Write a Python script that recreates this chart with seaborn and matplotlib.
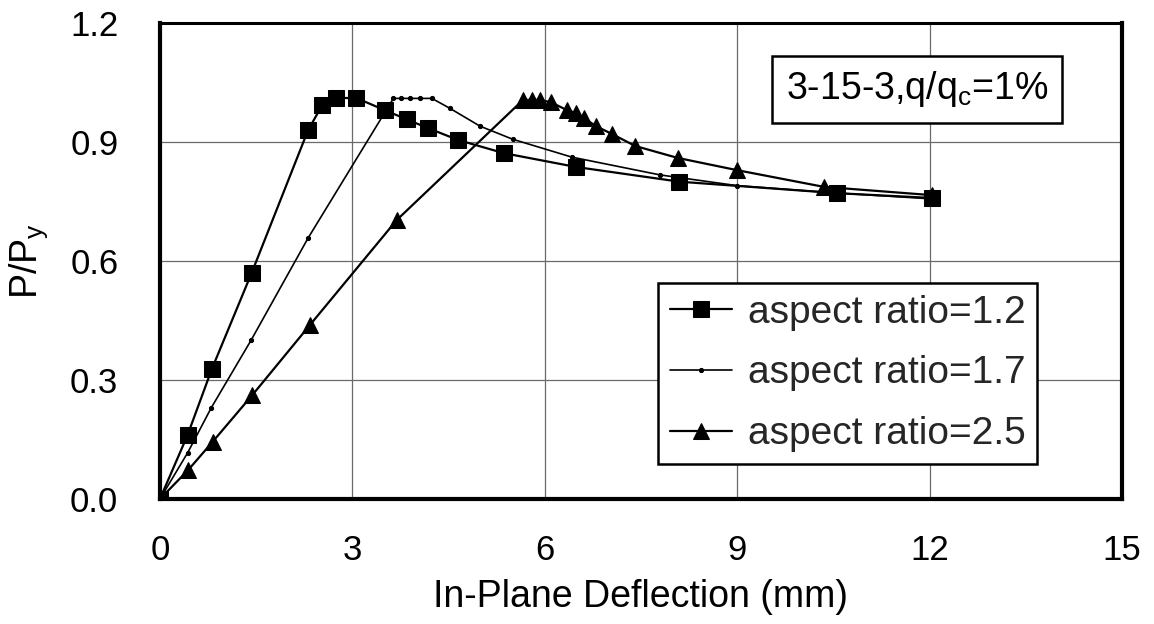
import matplotlib
matplotlib.use("Agg")
import matplotlib.pyplot as plt
import seaborn as sns
import pandas as pd

# In-plane deflection (mm) vs. normalised load P/Py for three plate aspect ratios
defl_ar12 = [0, 0.43, 0.81, 1.43, 2.31, 2.53, 2.74, 3.06, 3.51, 3.85, 4.18, 4.65, 5.36, 6.49, 8.10, 10.56, 12.03]
load_ar12 = [0, 0.161, 0.328, 0.570, 0.930, 0.993, 1.011, 1.011, 0.980, 0.957, 0.935, 0.905, 0.872, 0.837, 0.800, 0.771, 0.759]

defl_ar17 = [0, 0.43, 0.80, 1.42, 2.31, 3.64, 3.76, 3.90, 4.05, 4.24, 4.52, 4.99, 5.50, 6.42, 7.80, 9.00, 10.50, 12.00]
load_ar17 = [0, 0.116, 0.230, 0.400, 0.658, 1.010, 1.010, 1.010, 1.010, 1.010, 0.985, 0.940, 0.907, 0.862, 0.817, 0.790, 0.772, 0.757]

defl_ar25 = [0, 0.44, 0.82, 1.44, 2.34, 3.69, 5.66, 5.80, 5.93, 6.10, 6.35, 6.49, 6.61, 6.80, 7.05, 7.41, 8.07, 9.00, 10.35, 12.04]
load_ar25 = [0, 0.073, 0.144, 0.262, 0.439, 0.703, 1.006, 1.006, 1.006, 1.000, 0.980, 0.973, 0.960, 0.940, 0.920, 0.890, 0.860, 0.829, 0.787, 0.766]

series_labels = ["aspect ratio=1.2", "aspect ratio=1.7", "aspect ratio=2.5"]
x_ticks = [0, 3, 6, 9, 12, 15]
y_ticks = [0.0, 0.3, 0.6, 0.9, 1.2]

sns.set_theme(style="white")
plt.rcParams["font.family"] = ["Liberation Sans", "DejaVu Sans"]
plt.rcParams["mathtext.fontset"] = "custom"
plt.rcParams["mathtext.rm"] = "Liberation Sans"
plt.rcParams["mathtext.it"] = "Liberation Sans:italic"

fig = plt.figure(figsize=(11.54, 6.24), dpi=100)
ax = fig.add_axes([0.1386, 0.2003, 0.8337, 0.7628])

styles = [
    dict(marker="s", markersize=11, linewidth=1.6),
    dict(marker="o", markersize=3, linewidth=1.2),
    dict(marker="^", markersize=12, linewidth=1.6),
]
for xs, ys, lab, st in zip([defl_ar12, defl_ar17, defl_ar25],
                           [load_ar12, load_ar17, load_ar25],
                           series_labels, styles):
    df = pd.DataFrame({"defl": xs, "load": ys})
    sns.lineplot(data=df, x="defl", y="load", ax=ax, sort=False, estimator=None,
                 color="black", markeredgecolor="black", markerfacecolor="black",
                 label=lab, zorder=3, **st)

ax.set_xlim(0, 15)
ax.set_ylim(0, 1.2)
ax.set_xticks(x_ticks)
ax.set_yticks(y_ticks)
ax.set_yticklabels([f"{v:.1f}" for v in y_ticks])
ax.grid(True, color="#6a6a6a", linewidth=0.9)
ax.set_axisbelow(True)

for side in ["left", "right", "top", "bottom"]:
    ax.spines[side].set_visible(True)
    ax.spines[side].set_color("black")
ax.spines["left"].set_linewidth(3)
ax.spines["bottom"].set_linewidth(3)
ax.spines["right"].set_linewidth(3)
ax.spines["top"].set_linewidth(2.2)

ax.tick_params(axis="both", direction="in", length=7, width=2.5, color="black",
               labelsize=25, labelcolor="black")
ax.tick_params(axis="y", pad=30)
ax.tick_params(axis="x", pad=25)

ax.set_xlabel("In-Plane Deflection (mm)", fontsize=27, color="black")
ax.set_ylabel(r"P/P$_{\mathregular{y}}$", fontsize=27, color="black")
ax.xaxis.set_label_coords(0.5, -0.168)
ax.yaxis.label.set_verticalalignment("center")
ax.yaxis.set_label_coords(-0.136, 0.5)

leg = ax.legend(loc="upper left", bbox_to_anchor=(0.518, 0.454), fontsize=28,
                frameon=True, fancybox=False, framealpha=1, edgecolor="black",
                handlelength=1.6, handletextpad=0.4, labelspacing=0.64,
                borderpad=0.3, borderaxespad=0)
leg.get_frame().set_linewidth(1.8)

ax.text(0.787, 0.861, r"3-15-3,q/q$_{\mathregular{c}}$=1%", transform=ax.transAxes,
        ha="center", va="center", fontsize=27, color="black", zorder=5,
        bbox=dict(boxstyle="square,pad=0.36", facecolor="white", edgecolor="black",
                  linewidth=1.8))

fig.savefig("out.png", dpi=100, facecolor="white")
